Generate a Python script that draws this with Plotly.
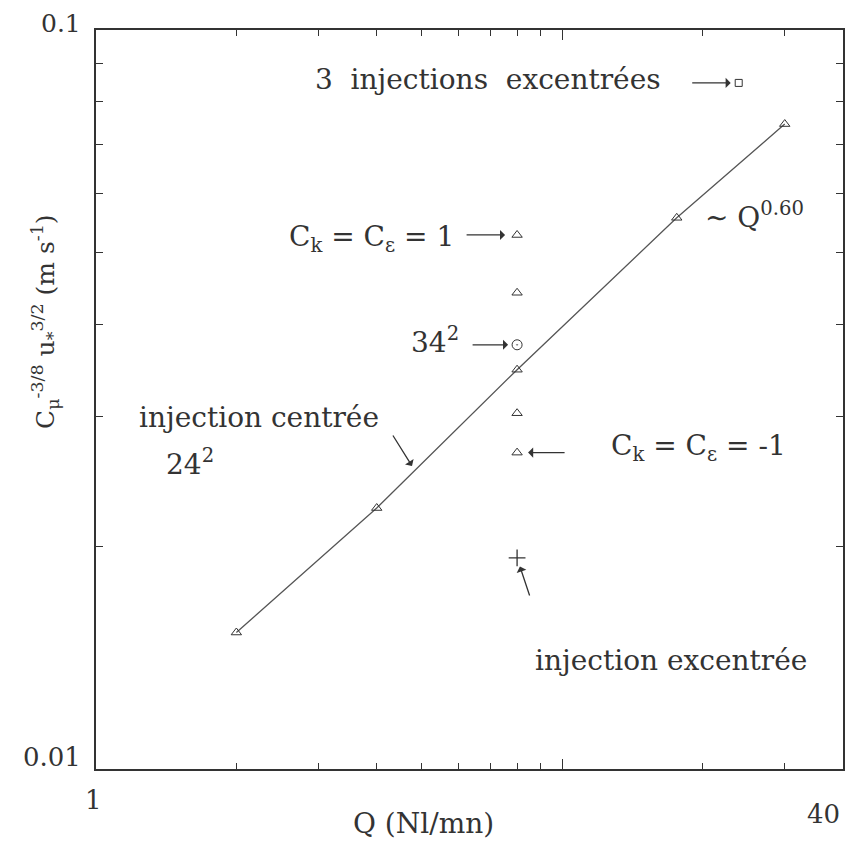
import math
import plotly.graph_objects as go

# ---- data ----
q_centre = [2, 4, 8, 17.6, 30]                 # injection centrée 24^2
u_centre = [0.0153, 0.02255, 0.0347, 0.0557, 0.0746]

q_variants = [8, 8, 8, 8]                        # C_k = C_eps variations, 24^2
u_variants = [0.0528, 0.0441, 0.0303, 0.0268]

q_mesh34 = [8]                                   # 34^2 grid
u_mesh34 = [0.0375]

q_excentree = [8]                                # injection excentrée
u_excentree = [0.0193]

q_3exc = [23.9]                                  # 3 injections excentrées
u_3exc = [0.0848]

x_minor_ticks = [2, 3, 4, 5, 6, 7, 8, 9, 20, 30]
x_major_ticks = [10]
y_minor_ticks = [0.02, 0.03, 0.04, 0.05, 0.06, 0.07, 0.08, 0.09]

INK = "#333333"
FONT = "DejaVu Serif"

fig = go.Figure()
mk = dict(color=INK, line=dict(color=INK, width=1))
fig.add_trace(go.Scatter(x=q_centre, y=u_centre, mode="lines+markers",
                         line=dict(color="#555555", width=1.3),
                         marker=dict(symbol="triangle-up-open", size=9, **mk),
                         showlegend=False))
fig.add_trace(go.Scatter(x=q_variants, y=u_variants, mode="markers",
                         marker=dict(symbol="triangle-up-open", size=9, **mk),
                         showlegend=False))
fig.add_trace(go.Scatter(x=q_mesh34, y=u_mesh34, mode="markers",
                         marker=dict(symbol="circle-open-dot", size=10, **mk),
                         showlegend=False))
fig.add_trace(go.Scatter(x=q_excentree, y=u_excentree, mode="markers",
                         marker=dict(symbol="cross-thin", size=12, color=INK,
                                     line=dict(color=INK, width=1.3)),
                         showlegend=False))
fig.add_trace(go.Scatter(x=q_3exc, y=u_3exc, mode="markers",
                         marker=dict(symbol="square-open", size=7, **mk),
                         showlegend=False))

# page body has an 8px margin: the plot area lands at screen x 96..843, y 30..769
OFF = 8
SX0, SX1, SY0, SY1 = 96, 843, 30, 769
W, H = 863 - OFF, 845 - OFF
L, T = SX0 - OFF, SY0 - OFF
R, B = W - (SX1 - OFF), H - (SY1 - OFF)
PW, PH = SX1 - SX0, SY1 - SY0


def px(x):
    return (x - SX0) / PW


def py(y):
    return (SY1 - y) / PH


ann = []


def text(t, x, y, xa="left", ya="middle", size=28, angle=0):
    ann.append(dict(text=t, x=px(x), y=py(y), xref="paper", yref="paper",
                    xanchor=xa, yanchor=ya, showarrow=False, textangle=angle,
                    borderpad=0,
                    font=dict(family=FONT, size=size, color=INK)))


def arrow_to(qx, uy, ax, ay, standoff):
    ann.append(dict(text="", x=math.log10(qx), y=math.log10(uy), xref="x", yref="y",
                    ax=ax, ay=ay, showarrow=True, arrowhead=1, arrowsize=1.3,
                    arrowwidth=1.3, arrowcolor=INK, standoff=standoff))


text("3&nbsp; injections&nbsp; excentrées", 662, 80, xa="right")
text("C<sub>k</sub> = C<sub>ε</sub> = 1", 455, 238, xa="right")
text("∼ Q<sup>0.60</sup>", 704, 215)
text("34<sup>2</sup>", 460, 340, xa="right")
text("injection centrée", 138, 417)
text("24<sup>2</sup>", 165, 462)
text("C<sub>k</sub> = C<sub>ε</sub> = -1", 610, 447)
text("injection excentrée", 534, 660)
text("Q (Nl/mn)", 423, 823, xa="center")
text("C<sub>μ</sub><sup>-3/8</sup> u<sub>*</sub><sup>3/2</sup> (m s<sup>-1</sup>)",
     45, 322, xa="center", size=25, angle=-90)
text("0.1", 82, 24, xa="right", size=25)
text("0.01", 82, 757, xa="right", size=26)
text("1", 93, 800, xa="center", size=26)
text("40", 823, 814, xa="center", size=26)

arrow_to(q_3exc[0], u_3exc[0], -48, 0, 8)
arrow_to(q_variants[0], u_variants[0], -52, 0, 12)
arrow_to(q_mesh34[0], u_mesh34[0], -46, 0, 9)
arrow_to(q_variants[3], u_variants[3], 49, 0, 11)
arrow_to(q_excentree[0], u_excentree[0], 13, 39, 9)
# arrow pointing to the fitted line (injection centrée)
ann.append(dict(text="", x=px(412), y=py(466), xref="paper", yref="paper",
                ax=-20, ay=-32, showarrow=True, arrowhead=1, arrowsize=1.3,
                arrowwidth=1.3, arrowcolor=INK))

axis_common = dict(showline=True, linecolor=INK, linewidth=1.5, mirror="ticks",
                   ticks="inside", tickcolor=INK, tickwidth=1.3,
                   showgrid=False, zeroline=False, showticklabels=False)

fig.update_xaxes(type="log", range=[0, math.log10(40)], tickmode="array",
                 tickvals=x_major_ticks, ticklen=10,
                 minor=dict(tickmode="array", tickvals=x_minor_ticks, ticks="inside",
                            ticklen=6, tickcolor=INK, tickwidth=1.2, showgrid=False),
                 **axis_common)
fig.update_yaxes(type="log", range=[-2, -1], tickmode="array", tickvals=[],
                 ticklen=10,
                 minor=dict(tickmode="array", tickvals=y_minor_ticks, ticks="inside",
                            ticklen=7, tickcolor=INK, tickwidth=1.2, showgrid=False),
                 **axis_common)

fig.update_layout(width=W, height=H, margin=dict(l=L, r=R, t=T, b=B),
                  paper_bgcolor="white", plot_bgcolor="white",
                  font=dict(family=FONT, size=24, color=INK),
                  annotations=ann, showlegend=False)

fig.write_html("out.html")
